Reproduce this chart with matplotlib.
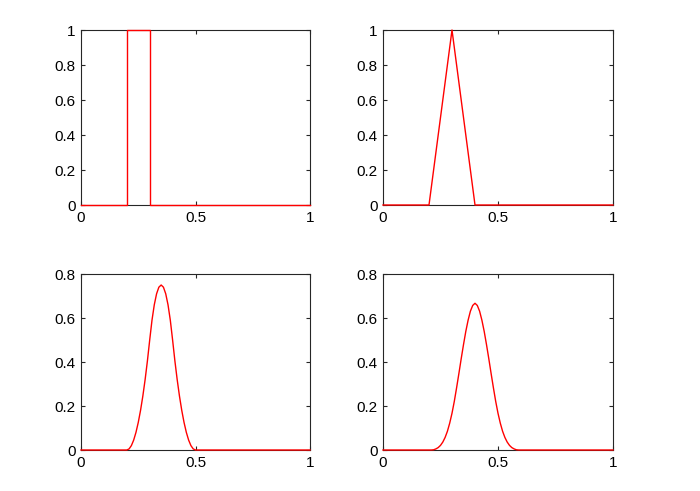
import numpy as np
import matplotlib
matplotlib.use("Agg")
import matplotlib.pyplot as plt

plt.rcParams['font.family'] = ['Liberation Sans', 'DejaVu Sans']

# Panel 1: box
box_x = [0, 0.2, 0.2, 0.3, 0.3, 1]
box_y = [0, 0, 1, 1, 0, 0]

# Panel 2: triangle
tri_x = [0, 0.2, 0.3, 0.4, 1]
tri_y = [0, 0, 1, 0, 0]

# Panel 3: bell (quadratic), read every 0.01 from 0.2 to 0.5
quad_x = [0, 0.20, 0.21, 0.22, 0.23, 0.24, 0.25, 0.26, 0.27, 0.28, 0.29, 0.30,
          0.31, 0.32, 0.33, 0.34, 0.35, 0.36, 0.37, 0.38, 0.39, 0.40,
          0.41, 0.42, 0.43, 0.44, 0.45, 0.46, 0.47, 0.48, 0.49, 0.50, 1]
quad_y = [0, 0, 0.005, 0.02, 0.045, 0.08, 0.125, 0.18, 0.245, 0.32, 0.405, 0.50,
          0.59, 0.66, 0.71, 0.74, 0.75, 0.74, 0.71, 0.66, 0.59, 0.50,
          0.405, 0.32, 0.245, 0.18, 0.125, 0.08, 0.045, 0.02, 0.005, 0, 0]

# Panel 4: bell (cubic), read every 0.01 from 0.2 to 0.6
cub_x = [0, 0.20, 0.21, 0.22, 0.23, 0.24, 0.25, 0.26, 0.27, 0.28, 0.29, 0.30,
         0.31, 0.32, 0.33, 0.34, 0.35, 0.36, 0.37, 0.38, 0.39, 0.40,
         0.41, 0.42, 0.43, 0.44, 0.45, 0.46, 0.47, 0.48, 0.49, 0.50,
         0.51, 0.52, 0.53, 0.54, 0.55, 0.56, 0.57, 0.58, 0.59, 0.60, 1]
cub_y = [0, 0, 0.000, 0.001, 0.005, 0.011, 0.021, 0.036, 0.057, 0.085, 0.122, 0.167,
         0.221, 0.283, 0.348, 0.415, 0.479, 0.539, 0.590, 0.631, 0.657, 0.667,
         0.657, 0.631, 0.590, 0.539, 0.479, 0.415, 0.348, 0.283, 0.221, 0.167,
         0.122, 0.085, 0.057, 0.036, 0.021, 0.011, 0.005, 0.001, 0.000, 0, 0]

xticks = [0, 0.5, 1]
xticklabels = ['0', '0.5', '1']
yticks_top = [0, 0.2, 0.4, 0.6, 0.8, 1]
yticklabels_top = ['0', '0.2', '0.4', '0.6', '0.8', '1']
yticks_bot = [0, 0.2, 0.4, 0.6, 0.8]
yticklabels_bot = ['0', '0.2', '0.4', '0.6', '0.8']

W, H = 700, 491
fig = plt.figure(figsize=(W / 100, H / 100), dpi=100)

def rect(x0, y0, x1, y1):
    return [x0 / W, 1 - y1 / H, (x1 - x0) / W, (y1 - y0) / H]

panels = [
    (rect(81, 30, 310, 205), box_x, box_y, yticks_top, yticklabels_top, 1),
    (rect(383, 30, 613, 205), tri_x, tri_y, yticks_top, yticklabels_top, 1),
    (rect(81, 274, 310, 450), quad_x, quad_y, yticks_bot, yticklabels_bot, 0.8),
    (rect(383, 274, 613, 450), cub_x, cub_y, yticks_bot, yticklabels_bot, 0.8),
]

axcol = '#262626'
for r, x, y, yt, ytl, ymax in panels:
    ax = fig.add_axes(r)
    ax.plot(x, y, color='#ff0000', linewidth=1.0, zorder=3, clip_on=False)
    ax.set_xlim(0, 1)
    ax.set_ylim(0, ymax)
    ax.set_xticks(xticks)
    ax.set_xticklabels(xticklabels)
    ax.set_yticks(yt)
    ax.set_yticklabels(ytl)
    for s in ax.spines.values():
        s.set_color(axcol)
        s.set_linewidth(0.8)
    ax.tick_params(direction='in', length=3, width=0.8, color=axcol,
                   labelcolor='black', labelsize=11, top=True, right=True, pad=4)

fig.savefig('out.png', dpi=100)
